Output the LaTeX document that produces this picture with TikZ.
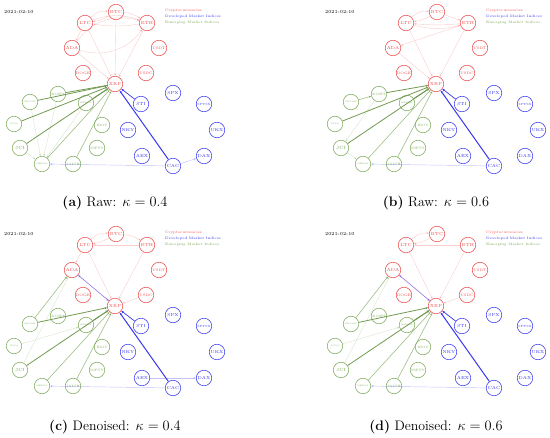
\documentclass[tikz,border=0pt]{standalone}
\usetikzlibrary{arrows.meta}
\definecolor{crc}{RGB}{235,75,75}
\definecolor{dmc}{RGB}{55,55,240}
\definecolor{emc}{RGB}{125,170,90}
\definecolor{puc}{RGB}{120,80,220}
\tikzset{
  nd/.style={circle,draw,line width=0.55pt,minimum size=15.5pt,inner sep=0pt},
  cr/.style={nd,draw=crc,text=crc,font=\fontsize{4.3}{5}\selectfont},
  dm/.style={nd,draw=dmc,text=dmc,font=\fontsize{4.3}{5}\selectfont},
  em/.style={nd,draw=emc,text=emc,font=\fontsize{3.2}{4}\selectfont},
  ems/.style={nd,draw=emc,text=emc,font=\fontsize{2}{3}\selectfont},
  emb/.style={nd,draw=emc,text=emc,font=\fontsize{4.5}{5}\selectfont},
  lg/.style={anchor=west,inner sep=0pt,font=\fontsize{3.6}{4}\selectfont},
  dt/.style={anchor=west,inner sep=0pt,font=\fontsize{4.6}{5}\selectfont},
  captxt/.style={inner sep=0pt,font=\fontsize{13.8}{16}\selectfont},
  arw/.style={-{Stealth[length=2.6pt,width=2.2pt]}},
  ce/.style={arw,draw=crc!70,line width=0.4pt,opacity=0.4},
  ge/.style={arw,draw=emc!90!black,line width=0.8pt},
  gm/.style={arw,draw=emc,line width=0.55pt,opacity=0.8},
  gf/.style={arw,draw=emc,line width=0.4pt,opacity=0.3},
  be/.style={arw,draw=dmc,line width=1pt},
  bm/.style={arw,draw=dmc,line width=0.7pt},
  bf/.style={arw,draw=dmc,line width=0.45pt,opacity=0.3},
  pe/.style={{Stealth[length=2.6pt,width=2.2pt]}-{Stealth[length=2.6pt,width=2.2pt]},draw=puc,line width=0.6pt,opacity=0.8}
}
\newcommand\allnodes[1]{%
  \node[dt] (#1date) at (4,12) {2021-02-10};
  \node[lg,text=crc] (#1l1) at (165,10.5) {Cryptocurrencies};
  \node[lg,text=dmc] (#1l2) at (165,16.8) {Developed Market Indices};
  \node[lg,text=emc] (#1l3) at (165,23.1) {Emerging Market Indices};
  \node[cr] (#1BTC) at (116,12) {BTC};
  \node[cr] (#1LTC) at (85,23) {LTC};
  \node[cr] (#1ETH) at (147,23) {ETH};
  \node[cr] (#1ADA) at (72,48) {ADA};
  \node[cr,font=\fontsize{3.6}{4}\selectfont] (#1USDT) at (159,48) {USDT};
  \node[cr,font=\fontsize{3.6}{4}\selectfont] (#1DOGE) at (83,73) {DOGE};
  \node[cr,font=\fontsize{3.6}{4}\selectfont] (#1USDC) at (146,73) {USDC};
  \node[cr] (#1XRP) at (115,84) {XRP};
  \node[dm] (#1SPX) at (173,93) {SPX};
  \node[dm,font=\fontsize{3}{4}\selectfont] (#1SPTSX) at (204,104) {SPTSX};
  \node[dm] (#1STI) at (141,104) {STI};
  \node[dm] (#1NKY) at (128,130) {NKY};
  \node[dm] (#1UKX) at (217,130) {UKX};
  \node[dm] (#1AEX) at (142,156) {AEX};
  \node[dm] (#1DAX) at (204,156) {DAX};
  \node[dm] (#1CAC) at (173,166) {CAC};
  \node[em] (#1KOSPI) at (58,94) {KOSPI};
  \node[ems] (#1SHCOMP) at (30,102) {SHCOMP};
  \node[ems] (#1MEXBOL) at (86,103) {MEXBOL};
  \node[ems] (#1XU) at (14,124) {XU100};
  \node[em] (#1IBOV) at (102,125) {IBOV};
  \node[emb] (#1JCI) at (20,148) {JCI};
  \node[em] (#1NIFTY) at (97,148) {NIFTY};
  \node[ems] (#1MERVAL) at (42,164) {MERVAL};
  \node[em] (#1JALSH) at (73,164) {JALSH};
}
\begin{document}
\begin{tikzpicture}[x=1pt,y=-1pt]
\useasboundingbox (0,0) rectangle (550,438);
% ---------- (a) ----------
\begin{scope}
\allnodes{a}
\draw[ce] (aLTC) to[bend left=25] (aBTC);
\draw[ce] (aBTC) to[bend left=10] (aLTC);
\draw[ce] (aLTC) to[bend left=20] (aETH);
\draw[ce] (aBTC) to[bend left=15] (aETH);
\draw[ce] (aETH) to[bend left=8] (aLTC);
\draw[ce] (aADA) to[bend left=35] (aETH);
\draw[ce] (aADA) to[bend right=35] (aETH);
\draw[ce] (aLTC) -- (aADA);
\draw[ce] (aLTC) -- (aXRP);
\draw[ce] (aBTC) -- (aXRP);
\draw[ce] (aETH) -- (aXRP);
\draw[ce] (aADA) -- (aXRP);
\draw[ge] (aKOSPI) -- (aXRP);
\draw[ge] (aSHCOMP) -- (aXRP);
\draw[ge] (aXU) -- (aXRP);
\draw[ge] (aMEXBOL) -- (aXRP);
\draw[ge] (aJCI) -- (aXRP);
\draw[gm] (aMERVAL) -- (aXRP);
\draw[gm] (aJALSH) -- (aXRP);
\draw[gf] (aSHCOMP) -- (aMERVAL);
\draw[gf] (aKOSPI) -- (aMERVAL);
\draw[gf] (aJCI) -- (aMERVAL);
\draw[gf] (aMEXBOL) -- (aMERVAL);
\draw[be] (aCAC) -- (aXRP);
\draw[bm] (aSTI) -- (aXRP);
\draw[bf] (aCAC) -- (aMERVAL);
\draw[bf] (aCAC) -- (aDAX);
\node[captxt] (capa) at (115,203) {\textbf{(a)} Raw: $\kappa = 0.4$};
\end{scope}
% ---------- (b) ----------
\begin{scope}[shift={(321,0)}]
\allnodes{b}
\draw[ce] (bLTC) to[bend left=25] (bBTC);
\draw[ce] (bBTC) to[bend left=10] (bLTC);
\draw[ce] (bLTC) to[bend right=15] (bETH);
\draw[ce] (bETH) to[bend left=5] (bLTC);
\draw[ce] (bBTC) -- (bETH);
\draw[ce] (bETH) -- (bADA);
\draw[ce] (bLTC) -- (bXRP);
\draw[ce] (bETH) -- (bXRP);
\draw[ce] (bADA) -- (bXRP);
\draw[ge] (bKOSPI) -- (bXRP);
\draw[gm] (bSHCOMP) -- (bKOSPI);
\draw[ge] (bXU) -- (bXRP);
\draw[ge] (bMEXBOL) -- (bXRP);
\draw[ge] (bJCI) -- (bXRP);
\draw[gm] (bMERVAL) -- (bXRP);
\draw[gm] (bJALSH) -- (bXRP);
\draw[gf] (bKOSPI) -- (bJCI);
\draw[gf] (bJCI) -- (bMERVAL);
\draw[be] (bCAC) -- (bXRP);
\draw[bm] (bSTI) -- (bXRP);
\draw[bf] (bCAC) -- (bMERVAL);
\node[captxt] (capb) at (115,203) {\textbf{(b)} Raw: $\kappa = 0.6$};
\end{scope}
% ---------- (c) ----------
\begin{scope}[shift={(0,222)}]
\allnodes{c}
\draw[ce] (cLTC) to[bend left=25] (cBTC);
\draw[ce] (cBTC) to[bend left=10] (cLTC);
\draw[ce] (cBTC) to[bend left=15] (cETH);
\draw[ce] (cETH) -- (cLTC);
\draw[ce] (cLTC) -- (cADA);
\draw[ce] (cLTC) -- (cXRP);
\draw[ce] (cETH) -- (cXRP);
\draw[ce] (cUSDC) -- (cXRP);
\draw[pe] (cADA) -- (cXRP);
\draw[gm] (cSHCOMP) -- (cADA);
\draw[gf] (cJCI) -- (cADA);
\draw[ge] (cSHCOMP) -- (cXRP);
\draw[gf] (cXU) -- (cMEXBOL);
\draw[ge] (cMEXBOL) -- (cXRP);
\draw[ge] (cJCI) -- (cXRP);
\draw[gm] (cMERVAL) -- (cXRP);
\draw[gm] (cJALSH) -- (cXRP);
\draw[be] (cCAC) -- (cXRP);
\draw[bm] (cSTI) -- (cXRP);
\draw[bf] (cAEX) -- (cDAX);
\draw[bf] (cCAC) -- (cMERVAL);
\node[captxt] (capc) at (115,205) {\textbf{(c)} Denoised: $\kappa = 0.4$};
\end{scope}
% ---------- (d) ----------
\begin{scope}[shift={(321,222)}]
\allnodes{d}
\draw[ce] (dLTC) to[bend left=25] (dBTC);
\draw[ce] (dBTC) to[bend left=10] (dLTC);
\draw[ce] (dETH) -- (dLTC);
\draw[ce] (dLTC) -- (dXRP);
\draw[ce] (dETH) -- (dXRP);
\draw[ce] (dUSDC) -- (dXRP);
\draw[pe] (dADA) -- (dXRP);
\draw[gm] (dSHCOMP) -- (dADA);
\draw[gf] (dJCI) -- (dADA);
\draw[ge] (dSHCOMP) -- (dXRP);
\draw[gf] (dXU) -- (dMEXBOL);
\draw[ge] (dMEXBOL) -- (dXRP);
\draw[ge] (dJCI) -- (dXRP);
\draw[gm] (dMERVAL) -- (dXRP);
\draw[gm] (dJALSH) -- (dXRP);
\draw[be] (dCAC) -- (dXRP);
\draw[bm] (dSTI) -- (dXRP);
\draw[bf] (dCAC) -- (dMERVAL);
\node[captxt] (capd) at (115,205) {\textbf{(d)} Denoised: $\kappa = 0.6$};
\end{scope}
\end{tikzpicture}
\end{document}
